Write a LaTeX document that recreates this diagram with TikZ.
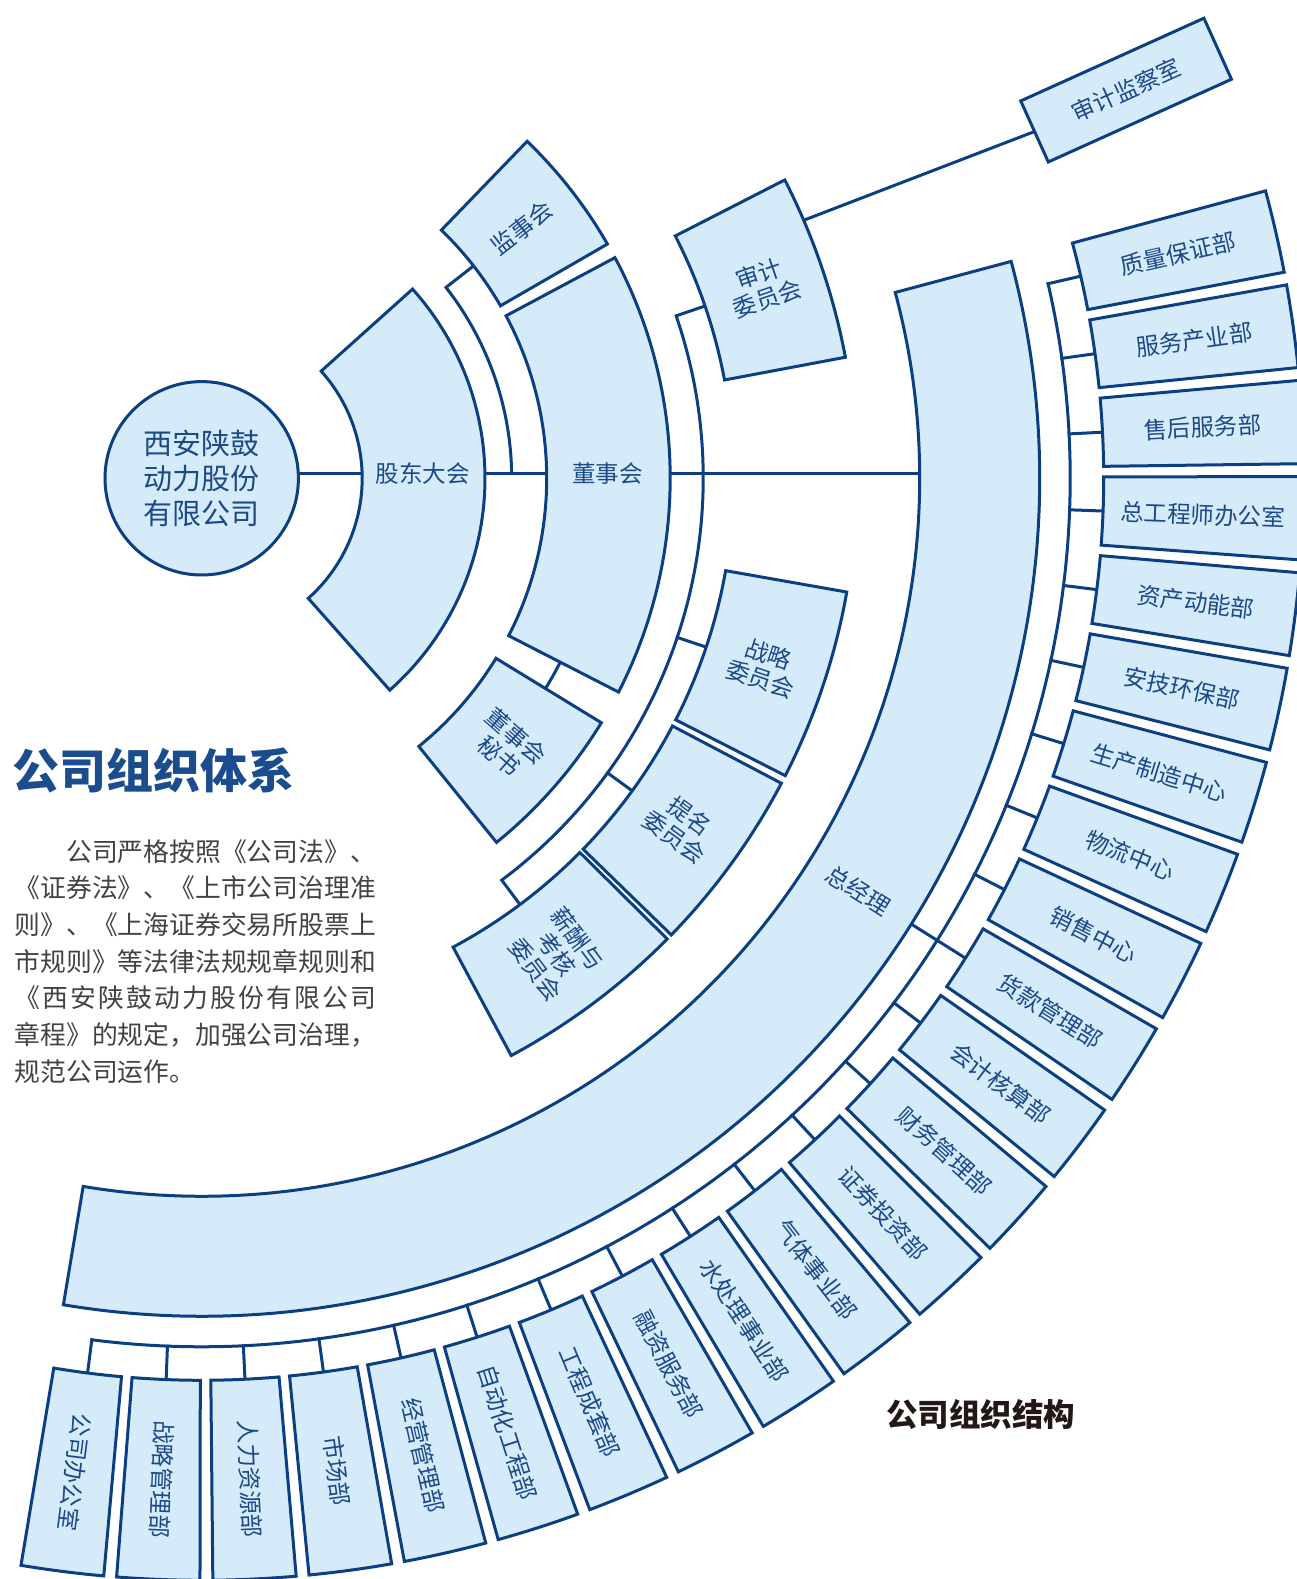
\documentclass[tikz,border=0pt]{standalone}
\usepackage{fontspec}
\setmainfont{Noto Sans CJK SC}
\definecolor{navy}{RGB}{11,63,128}
\definecolor{boxfill}{RGB}{213,235,249}
\definecolor{txtblue}{RGB}{28,74,135}
\definecolor{titleblue}{RGB}{26,76,142}
\definecolor{paragray}{RGB}{66,66,66}
\definecolor{capblack}{RGB}{35,24,21}
\tikzset{
  box/.style={draw=navy, fill=boxfill, line width=3pt},
  conn/.style={draw=navy, line width=3pt, line cap=rect},
  lbl/.style={text=txtblue, font=\fontsize{23.5}{26}\selectfont, align=center, inner sep=0pt},
  para/.style={text=paragray, font=\fontsize{25.8}{30}\selectfont, anchor=west, inner sep=0pt, text height=22.5pt, text depth=3.5pt},
}
\newcommand\ringsector[4]{\draw[box] (#1:#3) arc[start angle=#1, end angle=#2, radius=#3] -- (#2:#4) arc[start angle=#2, end angle=#1, radius=#4] -- cycle;}
\begin{document}
\begin{tikzpicture}[x=1pt,y=1pt]
\useasboundingbox (-201.7,-1100.7) rectangle (1095.3,478.3);
\clip (-201.7,-1100.7) rectangle (1095.3,478.3);

% ---------- connectors of the inner part ----------
\node[circle, draw=navy, fill=boxfill, line width=3pt, minimum size=193.4pt, inner sep=0pt,
      text=txtblue, font=\fontsize{29}{34.7}\selectfont, align=center] (circ) at (0,0) {西安陕鼓\\动力股份\\有限公司};
\coordinate (gd-in) at (160.4,5);
\coordinate (gd-out) at (283.3,5);
\coordinate (ds-in) at (345,5);
\coordinate (ds-out) at (468.5,5);
\coordinate (zjl-in) at (718,5);
\draw[conn] ([yshift=5pt]circ.east) -- (gd-in);
\draw[conn] (gd-out) -- (ds-in);
\draw[conn] (ds-out) -- (zjl-in);

% supervisory board branch
\coordinate (js-bus0) at (0.924:310);
\coordinate (js-bus) at (38:310);
\coordinate (js-in) at (38:345);
\draw[conn] (js-bus0) arc[start angle=0.924, end angle=38, radius=310] -- (js-in);

% secretary tick
\coordinate (ds-low) at (-27.15:403);
\coordinate (ms-top) at (-31.45:403);
\draw[conn] (ds-low) arc[start angle=-27.15, end angle=-31.45, radius=403];

% committee bus
\coordinate (cb-top) at (18.9:501.5);
\coordinate (cb-2) at (-18.5:501.5);
\coordinate (cb-3) at (-35.975:501.5);
\coordinate (cb-bot) at (-53.25:501.5);
\coordinate (sj-in) at (18.9:532);
\coordinate (zl-in) at (-18.5:532);
\coordinate (tm-in) at (-35.975:532);
\coordinate (xc-in) at (-53.25:532);
\draw[conn] (sj-in) -- (cb-top) arc[start angle=18.9, end angle=-53.25, radius=501.5] -- (xc-in);
\draw[conn] (cb-2) -- (zl-in);
\draw[conn] (cb-3) -- (tm-in);

% audit line
\coordinate (sj-out) at (23.2:655);
\node[box, rotate=24.3, minimum width=201pt, minimum height=67pt, inner sep=0pt,
      text=txtblue, font=\fontsize{23.5}{26}\selectfont] (sjjc) at (924.4,388.2) {审计监察室};
\draw[conn] (sj-out) -- (sjjc.west);

% ---------- outer departments ----------
\coordinate (zjl-out) at (-32.14:838);
\foreach \lab [count=\i] in {质量保证部,服务产业部,售后服务部,总工程师办公室,资产动能部,安技环保部,生产制造中心,物流中心,销售中心,货款管理部,会计核算部,财务管理部,证券投资部,气体事业部,水处理事业部,融资服务部,工程成套部,自动化工程部,经营管理部,市场部,人力资源部,战略管理部,公司办公室}{
  \pgfmathsetmacro\ang{12.95-5.01*(\i-1)}
  \pgfmathsetmacro\angA{\ang-2.17}
  \pgfmathsetmacro\angB{\ang+2.17}
  \coordinate (bus\i) at (\ang:868.5);
  \coordinate (dept\i-in) at (\ang:902);
  \draw[conn] (bus\i) -- (dept\i-in);
  \ringsector{\angA}{\angB}{902}{1102}
  \node[lbl, rotate=\ang] (dept\i) at (\ang:1002) {\lab};
}
\draw[conn] (bus1) arc[start angle=12.95, end angle=-97.25, radius=868.5];
\draw[conn] (zjl-out) -- (bus10);

% ---------- inner sectors ----------
\ringsector{-48.4}{41.9}{160.5}{283.3}
\node[lbl] (gd) at (221,5) {股东大会};
\ringsector{-27.15}{28.1}{345}{468.5}
\node[lbl] (ds) at (406,5) {董事会};
\ringsector{30}{46}{345}{468.5}
\node[lbl, rotate=38] (js) at (38:406.75) {监事会};
\ringsector{-51}{-31.45}{345}{468.5}
\node[lbl, rotate=-41.2] (ms) at (-41.2:406.75) {董事会\\秘书};

\ringsector{10.65}{27.1}{532}{655}
\node[lbl, rotate=18.9] (sj) at (18.9:593.5) {审计\\委员会};
\ringsector{-27}{-10}{532}{655}
\node[lbl, rotate=-18.5] (zl) at (-18.5:593.5) {战略\\委员会};
\ringsector{-44.2}{-27.75}{532}{655}
\node[lbl, rotate=-35.975] (tm) at (-35.975:593.5) {提名\\委员会};
\ringsector{-61.8}{-44.7}{532}{655}
\node[lbl, rotate=-53.25] (xc) at (-53.25:593.5) {薪酬与\\考核\\委员会};

\ringsector{-99.5}{15}{718}{838}
\node[lbl, rotate=-32.14] (zjl) at (-32.14:775) {总经理};

% ---------- texts ----------
\node[anchor=west, inner sep=0pt, text=titleblue, font=\fontsize{47}{50}\selectfont\bfseries] (title) at (-189.5,-292.5) {公司组织体系};
\node[para] (p1) at (-187.2,-373.4) {\hspace*{51.6pt}公司严格按照《公司法》、};
\node[para] (p2) at (-187.2,-410.1) {《证券法》、《上市公司治理准};
\node[para] (p3) at (-187.2,-446.7) {则》、《上海证券交易所股票上};
\node[para] (p4) at (-187.2,-483.4) {市规则》等法律法规规章规则和};
\node[para] (p5) at (-187.2,-520.1) {\makebox[361.2pt][s]{《\hfil 西\hfil 安\hfil 陕\hfil 鼓\hfil 动\hfil 力\hfil 股\hfil 份\hfil 有\hfil 限\hfil 公\hfil 司}};
\node[para] (p6) at (-187.2,-556.7) {章程》的规定，加强公司治理，};
\node[para] (p7) at (-187.2,-593.4) {规范公司运作。};
\node[inner sep=0pt, text=capblack, font=\fontsize{31.5}{34}\selectfont\bfseries] (cap) at (779.1,-936.7) {公司组织结构};
\end{tikzpicture}
\end{document}
